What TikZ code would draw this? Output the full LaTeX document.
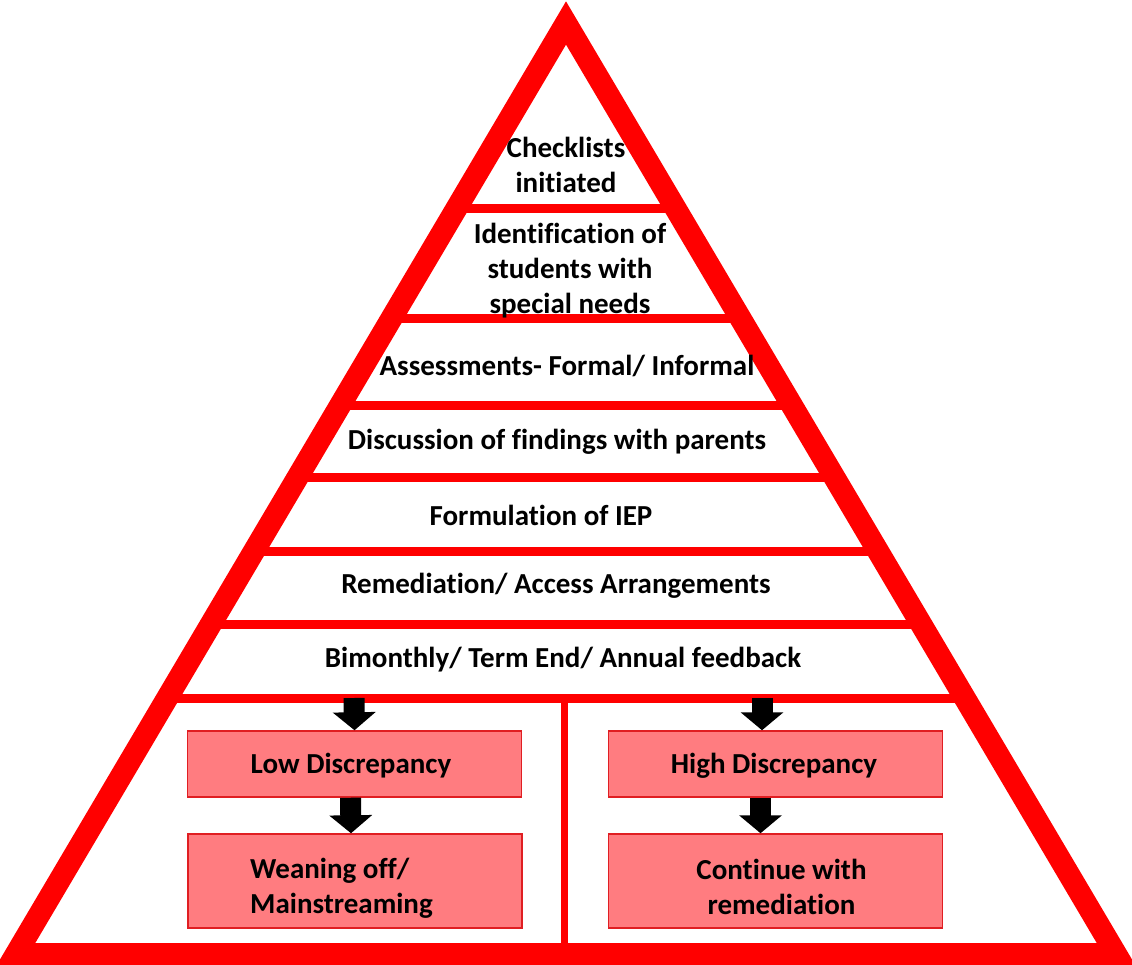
\documentclass[tikz,border=0pt]{standalone}
\usepackage{fontspec}
\setmainfont{Carlito}[Ligatures=NoCommon]
\usetikzlibrary{arrows.meta}
\definecolor{boxfill}{HTML}{FF7C80}
\definecolor{boxline}{HTML}{E01E22}
\begin{document}
\begin{tikzpicture}[x=1pt,y=-1pt,
  lbl/.style={font=\bfseries\fontsize{29}{35}\selectfont, align=center, inner sep=0pt, text=black},
  band/.style={draw=red, line width=9pt},
  frame/.style={draw=red, line width=22pt, line join=miter},
  outcome/.style={draw=boxline, fill=boxfill, line width=1.5pt, minimum width=334pt, inner sep=0pt},
  blockarrow/.style={draw=black, line width=21pt, -{Triangle[width=42pt,length=18pt]}}
]
\useasboundingbox (0,0) rectangle (1132,965);
% horizontal band lines clipped to the triangle
\begin{scope}
  \clip (566,23) -- (16,954) -- (1116,954) -- cycle;
  \foreach \yy in {209,319,405,477,551,624,698} {
    \draw[band] (0,\yy) -- (1132,\yy);
  }
  \draw[draw=red, line width=7pt] (564,698) -- (564,960);
\end{scope}
% outer triangle
\draw[frame] (566,23) -- (16,954) -- (1116,954) -- cycle;
% level texts
\node[lbl] (t1) at (566,165) {Checklists\\initiated};
\node[lbl] (t2) at (570,271) {Identification of\\students with\\special needs};
\node[lbl] (t3) at (567,366) {Assessments- Formal/ Informal};
\node[lbl] (t4) at (557,442) {Discussion of findings with parents};
\node[lbl] (t5) at (541,515) {Formulation of IEP};
\node[lbl] (t6) at (556,586) {Remediation/ Access Arrangements};
\node[lbl] (t7) at (563,660) {Bimonthly/ Term End/ Annual feedback};
% outcome boxes
\node[outcome, minimum height=66pt] (low) at (354.5,764) {};
\node[outcome, minimum height=94pt] (wean) at (355,881) {};
\node[outcome, minimum height=66pt] (high) at (775.5,764) {};
\node[outcome, minimum height=94pt] (cont) at (775.5,881) {};
\node[lbl] (lowtxt) at (351,766) {Low Discrepancy};
\node[lbl, align=left, anchor=west] (weantxt) at (250,888) {Weaning off/\\Mainstreaming};
\node[lbl] (hightxt) at (774,766) {High Discrepancy};
\node[lbl] (conttxt) at (781.5,887) {Continue with\\remediation};
% block arrows
\coordinate (s1) at (354,698);
\coordinate (s2) at (762,698);
\draw[blockarrow] (s1) -- (low.north);
\draw[blockarrow] ([xshift=-4pt]low.south) -- ([xshift=-4pt]wean.north);
\draw[blockarrow] (s2) -- (s2 |- high.north);
\draw[blockarrow] ([xshift=-15pt]high.south) -- ([xshift=-15pt]cont.north);
\end{tikzpicture}
\end{document}
